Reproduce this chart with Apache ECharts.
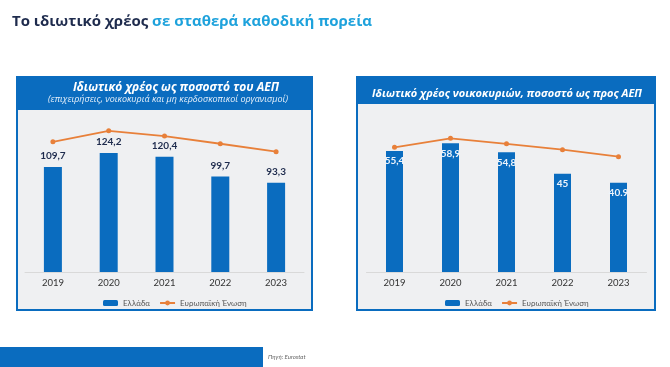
<!DOCTYPE html>
<html><head><meta charset="utf-8">
<script src="https://cdn.jsdelivr.net/npm/echarts@6/dist/echarts.min.js"></script>
<style>html,body{margin:0;padding:0;background:#fff}#c{width:670px;height:367px}</style>
</head><body><div id="c"></div>
<script>
const years = ['2019','2020','2021','2022','2023'];
const leftGreece = [109.7, 124.2, 120.4, 99.7, 93.3];
const leftEU = [136, 147.5, 142, 134, 125.7];
const rightGreece = [55.4, 58.9, 54.8, 45, 40.9];
const rightEU = [57.1, 61.2, 58.7, 56.0, 52.8];
const leftLabels = ['109,7','124,2','120,4','99,7','93,3'];
const rightLabels = ['55,4','58,9','54,8','45','40.9'];

const BLUE = '#0a6cbf', ORANGE = '#e8803a', NAVY = '#1e2b4d';
const FONT = 'Lato, "Open Sans", sans-serif';
const WFONT = '"Open Sans", sans-serif';
const chart = echarts.init(document.getElementById('c'));
chart.setOption({
  animation: false,
  textStyle: {fontFamily: FONT},
  title: {
    left: 7, top: 9,
    text: '{a|Το ιδιωτικό χρέος }{b|σε σταθερά καθοδική πορεία}',
    textStyle: {rich: {
      a: {fontSize: 15, fontWeight: 'bold', color: NAVY, fontFamily: WFONT},
      b: {fontSize: 15, fontWeight: 'bold', color: '#1ea2dc', fontFamily: WFONT}
    }}
  },
  graphic: [
    {type:'rect', z:-10, shape:{x:17,y:77,width:295,height:233}, style:{fill:'#eff0f2', stroke:BLUE, lineWidth:2}},
    {type:'rect', z:-9, shape:{x:17,y:77,width:295,height:33}, style:{fill:BLUE}},
    {type:'text', z:5, x:176, y:88, style:{text:'Ιδιωτικό χρέος ως ποσοστό του ΑΕΠ', fill:'#fff', font:'italic bold 12px '+WFONT, align:'center', verticalAlign:'middle'}},
    {type:'text', z:5, x:168, y:99.5, style:{text:'(επιχειρήσεις, νοικοκυριά και μη κερδοσκοπικοί οργανισμοί)', fill:'#e6f0fa', font:'italic 9px '+WFONT, align:'center', verticalAlign:'middle'}},
    {type:'rect', z:-10, shape:{x:357,y:77,width:298,height:233}, style:{fill:'#eff0f2', stroke:BLUE, lineWidth:2}},
    {type:'rect', z:-9, shape:{x:357,y:77,width:298,height:27}, style:{fill:BLUE}},
    {type:'text', z:5, x:507, y:94, style:{text:'Ιδιωτικό χρέος νοικοκυριών, ποσοστό ως προς ΑΕΠ', fill:'#fff', font:'italic bold 11px '+WFONT, align:'center', verticalAlign:'middle'}},
    {type:'rect', z:-9, shape:{x:0,y:347,width:263,height:20}, style:{fill:BLUE}},
    {type:'text', z:5, x:268, y:357, style:{text:'Πηγή: Eurostat', fill:'#666', font:'italic 6px '+FONT, verticalAlign:'middle'}}
  ],
  legend: [
    {left: 98, top: 294, itemWidth: 15, itemHeight: 6, itemGap: 9, textStyle:{fontSize: 8, color:'#555'}, data:['Ελλάδα','Ευρωπαϊκή Ένωση']},
    {left: 440, top: 294, itemWidth: 15, itemHeight: 6, itemGap: 9, textStyle:{fontSize: 8, color:'#555'}, data:['Ελλάδα','Ευρωπαϊκή Ένωση']}
  ],
  grid: [
    {left: 25, width: 279, top: 120, height: 152},
    {left: 366.5, width: 280, top: 120, height: 152}
  ],
  xAxis: [0,1].map(i => ({
    type:'category', gridIndex:i, data: years,
    axisLine:{lineStyle:{color:'#d9d9d9'}}, axisTick:{show:false},
    axisLabel:{color:'#333', fontSize:9.5, margin:6}
  })),
  yAxis: [
    {type:'value', gridIndex:0, min:0, max:158.8, show:false},
    {type:'value', gridIndex:1, min:0, max:69.6, show:false}
  ],
  series: [
    {name:'Ελλάδα', type:'bar', xAxisIndex:0, yAxisIndex:0, data:leftGreece, barWidth:18, itemStyle:{color:BLUE},
     label:{show:true, position:'top', distance:6, color:NAVY, fontSize:10, fontWeight:'bold', formatter:p=>leftLabels[p.dataIndex]}},
    {name:'Ευρωπαϊκή Ένωση', type:'line', xAxisIndex:0, yAxisIndex:0, data:leftEU, symbol:'circle', symbolSize:5,
     lineStyle:{color:ORANGE, width:1.8}, itemStyle:{color:ORANGE}},
    {name:'Ελλάδα', type:'bar', xAxisIndex:1, yAxisIndex:1, data:rightGreece, barWidth:17, itemStyle:{color:BLUE},
     label:{show:true, position:'insideTop', distance:5, color:'#eef4fb', fontSize:10, fontWeight:'bold', formatter:p=>rightLabels[p.dataIndex]}},
    {name:'Ευρωπαϊκή Ένωση', type:'line', xAxisIndex:1, yAxisIndex:1, data:rightEU, symbol:'circle', symbolSize:5,
     lineStyle:{color:ORANGE, width:1.8}, itemStyle:{color:ORANGE}}
  ]
});
</script>
</body></html>
